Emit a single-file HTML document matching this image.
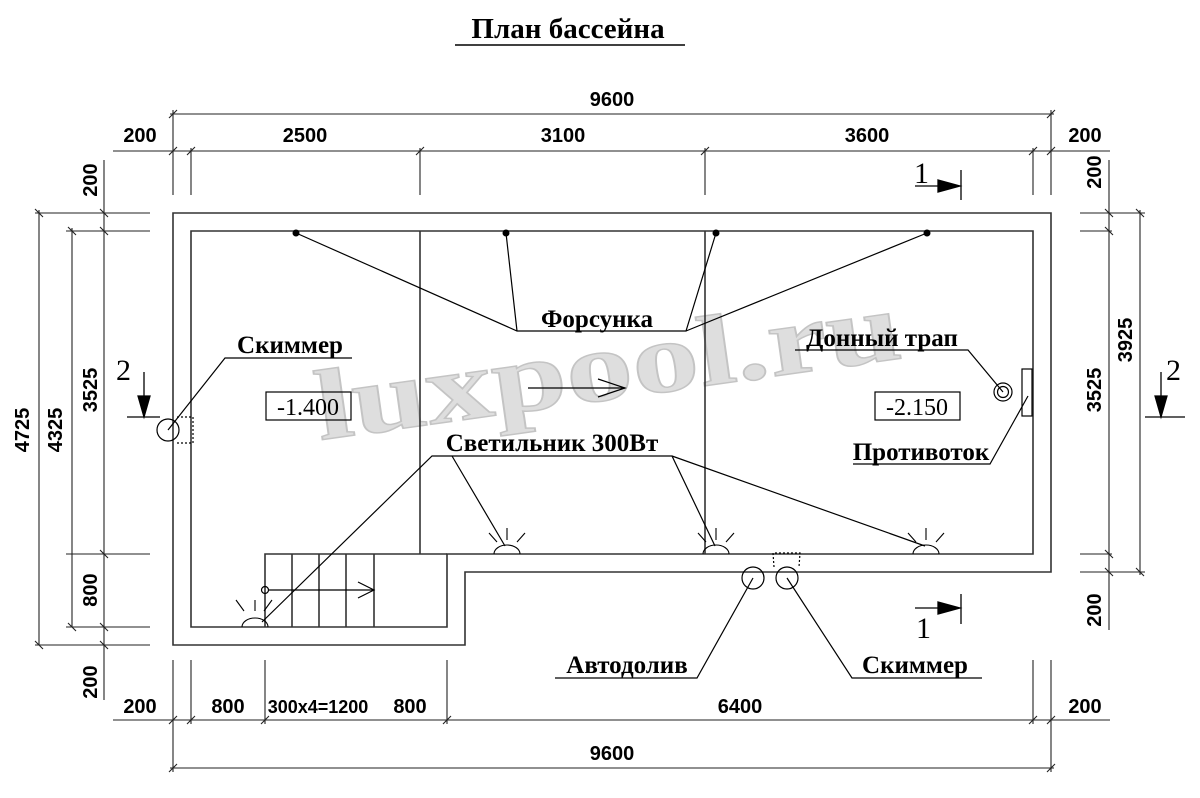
<!DOCTYPE html>
<html><head><meta charset="utf-8"><style>
body{margin:0;background:#fff}
svg{display:block}
.d{font-family:"Liberation Sans",sans-serif;font-weight:bold;font-size:20px;fill:#000}
.s{font-family:"Liberation Serif",serif;font-weight:bold;font-size:25px;fill:#000}
</style></head><body>
<svg width="1200" height="798" viewBox="0 0 1200 798" xmlns="http://www.w3.org/2000/svg">
<text x="320" y="440" transform="rotate(-8 320 440)" textLength="590" lengthAdjust="spacingAndGlyphs" font-family="Liberation Serif,serif" font-weight="bold" font-size="100" fill="#dedede" stroke="#c4c4c4" stroke-width="1.5">luxpool.ru</text>

<g stroke="#333" stroke-width="1.6" fill="none">
<path d="M173 213 H1051 V572 H465 V645 H173 Z"/>
<path d="M191 231 H1033 V554 H447 V627 H191 Z"/>
<line x1="420" y1="231" x2="420" y2="554"/>
<line x1="705" y1="231" x2="705" y2="554"/>
<path d="M265 627 V554 H447"/>
<line x1="292" y1="554" x2="292" y2="627"/>
<line x1="319" y1="554" x2="319" y2="627"/>
<line x1="346" y1="554" x2="346" y2="627"/>
<line x1="374" y1="554" x2="374" y2="627"/>
</g>
<g stroke="#000" stroke-width="1.2" fill="none">
<line x1="268" y1="590" x2="374" y2="590"/>
<circle cx="265" cy="590" r="3.5"/>
<path d="M358 582 L374 590 L358 598"/>
<line x1="528" y1="388" x2="625" y2="388"/>
<path d="M598 379 L625 388 L598 397"/>
<path d="M296 233 L517 331 H686 L716 233 M506 233 L517 331 M686 331 L927 233"/>
<path d="M262 622 L432 456 H672 L715 546 M452 456 L505 546 M672 456 L925 546"/>
<path d="M168 430 L225 358 H352"/>
<circle cx="168" cy="430" r="11"/>
<path d="M177 417 H193 V443 H177" stroke-dasharray="2 2"/>
<path d="M795 350 H968 L1003 392"/>
<circle cx="1003" cy="392" r="9"/><circle cx="1003" cy="392" r="5.5"/>
<rect x="1022" y="369" width="10" height="47"/>
<path d="M853 464 H990 L1028 396"/>
<circle cx="753" cy="578" r="11"/><circle cx="787" cy="578" r="11"/>
<path d="M774 567 L773 553 H800 L799 567" stroke-dasharray="2 2"/>
<path d="M555 678 H697 L753 578 M787 578 L852 678 H982"/>
<rect x="266" y="392" width="85" height="28"/>
<rect x="875" y="392" width="85" height="28"/>
</g>
<g fill="#000"><circle cx="296" cy="233" r="3.5"/><circle cx="506" cy="233" r="3.5"/><circle cx="716" cy="233" r="3.5"/><circle cx="927" cy="233" r="3.5"/></g>
<g stroke="#000" stroke-width="1.1" fill="none">
<path d="M494 554 A13 9 0 0 1 520 554 M507 540 V528 M497 542 L489 533 M517 542 L525 533"/>
<path d="M703 554 A13 9 0 0 1 729 554 M716 540 V528 M706 542 L698 533 M726 542 L734 533"/>
<path d="M913 554 A13 9 0 0 1 939 554 M926 540 V528 M916 542 L908 533 M936 542 L944 533"/>
<path d="M242 627 A13 9 0 0 1 268 627 M255 611 V600 M244 611 L236 600 M264 611 L272 600"/>
</g>
<g stroke="#222" stroke-width="1.1" fill="none">
<line x1="170" y1="114" x2="1054" y2="114"/>
<line x1="113" y1="151" x2="1110" y2="151"/>
<path d="M173 110 V195 M191 148 V195 M420 148 V195 M705 148 V195 M1033 148 V195 M1051 110 V195"/>
<line x1="113" y1="720" x2="1110" y2="720"/>
<line x1="170" y1="768" x2="1054" y2="768"/>
<path d="M173 660 V772 M191 660 V724 M265 660 V724 M447 660 V724 M1033 660 V724 M1051 660 V772"/>
<path d="M35 213 H150 M66 231 H150 M66 554 H150 M66 627 H150 M35 645 H150"/>
<path d="M39 210 V645 M72 228 V627 M104 160 V700"/>
<path d="M1080 213 H1145 M1080 231 H1112 M1080 554 H1112 M1080 572 H1145"/>
<path d="M1109 160 V630 M1140 210 V575"/>
<path d="M169 118 l8 -8 M1047 118 l8 -8 M169 155 l8 -8 M187 155 l8 -8 M416 155 l8 -8 M701 155 l8 -8 M1029 155 l8 -8 M1047 155 l8 -8
M169 724 l8 -8 M187 724 l8 -8 M261 724 l8 -8 M443 724 l8 -8 M1029 724 l8 -8 M1047 724 l8 -8 M169 772 l8 -8 M1047 772 l8 -8
M35 209 l8 8 M68 227 l8 8 M100 209 l8 8 M100 227 l8 8 M100 550 l8 8 M100 623 l8 8 M100 641 l8 8 M68 623 l8 8 M35 641 l8 8
M1105 209 l8 8 M1105 227 l8 8 M1136 209 l8 8 M1105 550 l8 8 M1105 568 l8 8 M1136 568 l8 8"/>
</g>
<g stroke="#000" stroke-width="1.3" fill="#000">
<line x1="915" y1="186" x2="945" y2="186"/><path d="M938 180 L960 186 L938 192 Z"/><line x1="961" y1="170" x2="961" y2="200"/>
<line x1="915" y1="608" x2="945" y2="608"/><path d="M938 602 L960 608 L938 614 Z"/><line x1="961" y1="594" x2="961" y2="624"/>
<line x1="144" y1="372" x2="144" y2="400"/><path d="M138 396 L144 417 L150 396 Z"/><line x1="127" y1="417" x2="160" y2="417"/>
<line x1="1161" y1="372" x2="1161" y2="400"/><path d="M1155 396 L1161 417 L1167 396 Z"/><line x1="1145" y1="417" x2="1185" y2="417"/>
</g>
<g class="s" style="font-size:30px;font-weight:normal">
<text x="914" y="183">1</text><text x="916" y="638">1</text><text x="116" y="380">2</text><text x="1166" y="380">2</text>
</g>
<text x="568" y="38" text-anchor="middle" class="s" style="font-size:29px">План бассейна</text>
<line x1="455" y1="45" x2="685" y2="45" stroke="#000" stroke-width="1.5"/>
<g class="s">
<text x="597" y="327" text-anchor="middle">Форсунка</text>
<text x="290" y="353" text-anchor="middle">Скиммер</text>
<text x="552" y="451" text-anchor="middle">Светильник 300Вт</text>
<text x="882" y="346" text-anchor="middle">Донный трап</text>
<text x="921" y="460" text-anchor="middle">Противоток</text>
<text x="627" y="673" text-anchor="middle">Автодолив</text>
<text x="915" y="673" text-anchor="middle">Скиммер</text>
<text x="308" y="415" text-anchor="middle" style="font-weight:normal;font-size:24px">-1.400</text>
<text x="917" y="415" text-anchor="middle" style="font-weight:normal;font-size:24px">-2.150</text>
</g>
<g class="d" text-anchor="middle">
<text x="612" y="106">9600</text>
<text x="140" y="142">200</text><text x="305" y="142">2500</text><text x="563" y="142">3100</text><text x="867" y="142">3600</text><text x="1085" y="142">200</text>
<text x="140" y="713">200</text><text x="228" y="713">800</text><text x="318" y="713" style="font-size:18px">300x4=1200</text><text x="410" y="713">800</text><text x="740" y="713">6400</text><text x="1085" y="713">200</text>
<text x="612" y="760">9600</text>
<text transform="translate(29 430) rotate(-90)">4725</text>
<text transform="translate(62 430) rotate(-90)">4325</text>
<text transform="translate(97 390) rotate(-90)">3525</text>
<text transform="translate(97 590) rotate(-90)">800</text>
<text transform="translate(97 180) rotate(-90)">200</text>
<text transform="translate(97 682) rotate(-90)">200</text>
<text transform="translate(1101 172) rotate(-90)">200</text>
<text transform="translate(1132 340) rotate(-90)">3925</text>
<text transform="translate(1101 390) rotate(-90)">3525</text>
<text transform="translate(1101 610) rotate(-90)">200</text>
</g>
</svg>
</body></html>
